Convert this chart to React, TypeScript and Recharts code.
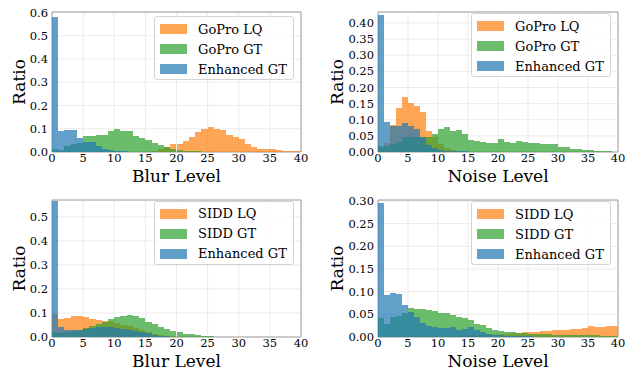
import React from "react";
import { BarChart, Bar, XAxis, YAxis, CartesianGrid, ReferenceArea } from "recharts";

const SERIF = "'DejaVu Serif', serif";

// left edge of each histogram bin (bin width 1)
const binStart = [
  0, 1, 2, 3, 4, 5, 6, 7, 8, 9, 10, 11, 12, 13, 14, 15, 16, 17, 18, 19,
  20, 21, 22, 23, 24, 25, 26, 27, 28, 29, 30, 31, 32, 33, 34, 35, 36, 37, 38, 39,
];
const xTicks = [0, 5, 10, 15, 20, 25, 30, 35, 40];

// GoPro - blur
const goproBlurLq = [
  0, 0, 0, 0, 0, 0, 0, 0, 0, 0, 0, 0, 0, 0, 0, 0.002, 0.006, 0.012, 0.022, 0.035,
  0.036, 0.047, 0.064, 0.085, 0.099, 0.108, 0.1, 0.093, 0.071, 0.063, 0.056, 0.036, 0.02, 0.015, 0.011, 0.011, 0.008, 0.006, 0.005, 0.004,
];
const goproBlurGt = [
  0.015, 0.01, 0.025, 0.035, 0.04, 0.067, 0.068, 0.071, 0.074, 0.09, 0.098, 0.092, 0.09, 0.067, 0.06, 0.05, 0.04, 0.03, 0.02, 0.013,
  0.008, 0.006, 0.004, 0.003, 0.002, 0.001, 0, 0, 0, 0, 0, 0, 0, 0, 0, 0, 0, 0, 0, 0,
];
const goproBlurEnh = [
  0.58, 0.09, 0.096, 0.096, 0.062, 0.045, 0.043, 0.025, 0.012, 0.007, 0.004, 0.003, 0.002, 0.001, 0.001, 0, 0, 0, 0, 0,
  0, 0, 0, 0, 0, 0, 0, 0, 0, 0, 0, 0, 0, 0, 0, 0, 0, 0, 0, 0,
];

// GoPro - noise
const goproNoiseLq = [
  0.012, 0.028, 0.083, 0.136, 0.171, 0.153, 0.144, 0.124, 0.066, 0.046, 0.025, 0.012, 0.006, 0.003, 0.001, 0, 0, 0, 0, 0,
  0, 0, 0, 0, 0, 0, 0, 0, 0, 0, 0, 0, 0, 0, 0, 0, 0, 0, 0, 0,
];
const goproNoiseGt = [
  0.02, 0.02, 0.025, 0.03, 0.045, 0.046, 0.046, 0.046, 0.048, 0.055, 0.07, 0.076, 0.066, 0.068, 0.056, 0.038, 0.033, 0.032, 0.029, 0.027,
  0.039, 0.031, 0.029, 0.034, 0.03, 0.029, 0.027, 0.026, 0.025, 0.025, 0.014, 0.014, 0.009, 0.008, 0.007, 0.005, 0.004, 0.003, 0.002, 0.001,
];
const goproNoiseEnh = [
  0.425, 0.092, 0.081, 0.081, 0.089, 0.081, 0.07, 0.047, 0.022, 0.011, 0.006, 0.004, 0.003, 0.002, 0.002, 0.001, 0.001, 0, 0, 0,
  0, 0, 0, 0, 0, 0, 0, 0, 0, 0, 0, 0, 0, 0, 0, 0, 0, 0, 0, 0,
];

// SIDD - blur
const siddBlurLq = [
  0.095, 0.074, 0.077, 0.086, 0.089, 0.084, 0.075, 0.07, 0.068, 0.066, 0.06, 0.052, 0.045, 0.036, 0.028, 0.02, 0.013, 0.008, 0.005, 0.003,
  0.002, 0.001, 0, 0, 0, 0, 0, 0, 0, 0, 0, 0, 0, 0, 0, 0, 0, 0, 0, 0,
];
const siddBlurGt = [
  0.02, 0.015, 0.02, 0.025, 0.03, 0.036, 0.045, 0.055, 0.063, 0.074, 0.083, 0.089, 0.09, 0.087, 0.077, 0.063, 0.055, 0.042, 0.032, 0.024,
  0.021, 0.014, 0.011, 0.007, 0.004, 0.003, 0.001, 0, 0, 0, 0, 0, 0, 0, 0, 0, 0, 0, 0, 0,
];
const siddBlurEnh = [
  0.565, 0.042, 0.03, 0.028, 0.03, 0.035, 0.039, 0.04, 0.04, 0.04, 0.038, 0.035, 0.031, 0.025, 0.02, 0.015, 0.01, 0.006, 0.004, 0.002,
  0.001, 0, 0, 0, 0, 0, 0, 0, 0, 0, 0, 0, 0, 0, 0, 0, 0, 0, 0, 0,
];

// SIDD - noise
const siddNoiseLq = [
  0.001, 0.001, 0.001, 0.001, 0.001, 0.001, 0.001, 0.002, 0.002, 0.002, 0.002, 0.003, 0.003, 0.003, 0.004, 0.004, 0.005, 0.005, 0.006, 0.006,
  0.007, 0.007, 0.008, 0.009, 0.01, 0.011, 0.012, 0.0125, 0.013, 0.015, 0.015, 0.016, 0.017, 0.018, 0.019, 0.024, 0.022, 0.023, 0.024, 0.024,
];
const siddNoiseGt = [
  0.041, 0.028, 0.044, 0.047, 0.053, 0.063, 0.061, 0.061, 0.059, 0.057, 0.053, 0.052, 0.048, 0.043, 0.041, 0.037, 0.029, 0.026, 0.019, 0.015,
  0.013, 0.011, 0.01, 0.009, 0.008, 0.007, 0.007, 0.006, 0.006, 0.005, 0.005, 0.005, 0.005, 0.004, 0.004, 0.004, 0.004, 0.003, 0.003, 0.003,
];
const siddNoiseEnh = [
  0.295, 0.092, 0.097, 0.094, 0.07, 0.055, 0.045, 0.031, 0.024, 0.021, 0.02, 0.02, 0.022, 0.016, 0.018, 0.021, 0.015, 0.011, 0.007, 0.005,
  0.004, 0.003, 0.003, 0.002, 0.002, 0.002, 0.001, 0.001, 0.001, 0.001, 0.001, 0, 0, 0, 0, 0, 0, 0, 0, 0,
];

const ticksBlurGopro = [0, 0.1, 0.2, 0.3, 0.4, 0.5, 0.6];
const ticksNoiseGopro = [0, 0.05, 0.1, 0.15, 0.2, 0.25, 0.3, 0.35, 0.4];
const ticksBlurSidd = [0, 0.1, 0.2, 0.3, 0.4, 0.5];
const ticksNoiseSidd = [0, 0.05, 0.1, 0.15, 0.2, 0.25, 0.3];

const ORANGE = "#ff7f0e";
const GREEN = "#2ca02c";
const BLUE = "#1f77b4";

const XTitle = (props: any) => {
  const vb = props.viewBox || { x: 0, y: 0, width: 0 };
  return (
    <text x={vb.x + vb.width / 2} y={vb.y + 29.5} textAnchor="middle" fontSize={17} fontFamily={SERIF} fill="#000">
      {props.text}
    </text>
  );
};

const YTitle = (props: any) => {
  const vb = props.viewBox || { x: 0, y: 0, height: 0 };
  const x = vb.x + 25;
  const y = vb.y + vb.height / 2;
  return (
    <text x={x} y={y} transform={`rotate(-90, ${x}, ${y})`} textAnchor="middle" fontSize={17} fontFamily={SERIF} fill="#000">
      {props.text}
    </text>
  );
};

const Histogram = ({ p }: { p: any }) => {
  const data = binStart.map((b, i) => ({ x: b + 0.5, lq: p.lq[i], gt: p.gt[i], enh: p.enh[i] }));
  const names = [p.lqName, p.gtName, "Enhanced GT"];
  const colors = [ORANGE, GREEN, BLUE];
  return (
    <div style={{ position: "absolute", left: p.left, top: p.top, width: 318, height: 185 }}>
      <BarChart
        width={318}
        height={185}
        data={data}
        margin={{ top: p.mTop, right: p.mRight, left: 0, bottom: 0 }}
        barCategoryGap={0}
        barGap={0}
        style={{ fontFamily: SERIF }}
      >
        <CartesianGrid stroke="#ebebeb" />
        <XAxis
          dataKey="x"
          type="number"
          domain={[0, 40]}
          ticks={xTicks}
          interval={0}
          allowDataOverflow
          tickLine={false}
          axisLine={false}
          tickSize={0}
          tickMargin={2}
          height={33}
          tick={{ fontSize: 11.5, fill: "#000", fontFamily: SERIF }}
          label={<XTitle text={p.xLabel} />}
        />
        <XAxis xAxisId="gt" dataKey="x" type="number" domain={[0, 40]} hide />
        <XAxis xAxisId="enh" dataKey="x" type="number" domain={[0, 40]} hide />
        <YAxis
          type="number"
          domain={[0, p.yMax]}
          ticks={p.yTicks}
          interval={0}
          allowDataOverflow
          width={p.yWidth}
          tickFormatter={(v: number) => v.toFixed(p.digits)}
          tickLine={false}
          axisLine={false}
          tickSize={0}
          tickMargin={4}
          tick={{ fontSize: 11.5, fill: "#000", fontFamily: SERIF }}
          label={<YTitle text="Ratio" />}
        />
        <Bar dataKey="lq" fill={ORANGE} fillOpacity={0.7} barSize={p.barSize} shapeRendering="crispEdges" isAnimationActive={false} />
        <Bar xAxisId="gt" dataKey="gt" fill={GREEN} fillOpacity={0.7} barSize={p.barSize} shapeRendering="crispEdges" isAnimationActive={false} />
        <Bar xAxisId="enh" dataKey="enh" fill={BLUE} fillOpacity={0.7} barSize={p.barSize} shapeRendering="crispEdges" isAnimationActive={false} />
        <ReferenceArea x1={0} x2={40} y1={0} y2={p.yMax} fill="none" stroke="#a0a0a0" ifOverflow="visible" />
      </BarChart>
      <div
        style={{
          position: "absolute",
          left: p.legLeft,
          top: p.legTop,
          width: 140,
          height: 64,
          boxSizing: "border-box",
          border: "1px solid #d4d4d4",
          borderRadius: 3,
          background: "rgba(255,255,255,0.8)",
          fontFamily: SERIF,
          fontSize: 13,
          color: "#000",
        }}
      >
        {names.map((n, i) => (
          <div key={n} style={{ position: "absolute", left: 0, top: 2 + i * 20, height: 20, display: "flex", alignItems: "center" }}>
            <div style={{ marginLeft: 5, width: 27, height: 10, background: colors[i], opacity: 0.7 }} />
            <span style={{ marginLeft: 11, whiteSpace: "nowrap" }}>{n}</span>
          </div>
        ))}
      </div>
    </div>
  );
};

const panels = [
  {
    left: 0, top: 0, mTop: 12, mRight: 17, yWidth: 52, yMax: 0.602, yTicks: ticksBlurGopro, digits: 1, barSize: 6.224,
    lq: goproBlurLq, gt: goproBlurGt, enh: goproBlurEnh, lqName: "GoPro LQ", gtName: "GoPro GT", xLabel: "Blur Level",
    legLeft: 154, legTop: 16,
  },
  {
    left: 318, top: 0, mTop: 12, mRight: 18, yWidth: 60, yMax: 0.434, yTicks: ticksNoiseGopro, digits: 2, barSize: undefined,
    lq: goproNoiseLq, gt: goproNoiseGt, enh: goproNoiseEnh, lqName: "GoPro LQ", gtName: "GoPro GT", xLabel: "Noise Level",
    legLeft: 153, legTop: 13,
  },
  {
    left: 0, top: 185, mTop: 15, mRight: 17, yWidth: 52, yMax: 0.57, yTicks: ticksBlurSidd, digits: 1, barSize: 6.224,
    lq: siddBlurLq, gt: siddBlurGt, enh: siddBlurEnh, lqName: "SIDD LQ", gtName: "SIDD GT", xLabel: "Blur Level",
    legLeft: 154, legTop: 15.5,
  },
  {
    left: 318, top: 185, mTop: 15, mRight: 18, yWidth: 60, yMax: 0.302, yTicks: ticksNoiseSidd, digits: 2, barSize: undefined,
    lq: siddNoiseLq, gt: siddNoiseGt, enh: siddNoiseEnh, lqName: "SIDD LQ", gtName: "SIDD GT", xLabel: "Noise Level",
    legLeft: 153, legTop: 16,
  },
];

const App = () => (
  <div style={{ position: "absolute", left: 0, top: 0, width: 636, height: 370, background: "#fff" }}>
    {panels.map((p, i) => (
      <Histogram key={i} p={p} />
    ))}
  </div>
);

export default App;
